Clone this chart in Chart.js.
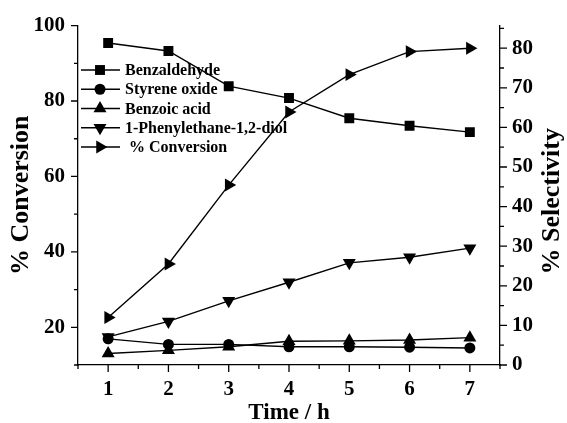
<!DOCTYPE html>
<html>
<head>
<meta charset="utf-8">
<script src="https://cdn.jsdelivr.net/npm/chart.js@4/dist/chart.umd.min.js"></script>
<style>
  html, body { margin: 0; padding: 0; background: #fff; }
  #wrap { width: 567px; height: 423px; }
</style>
</head>
<body>
<div id="wrap"><canvas id="chart" width="567" height="423"></canvas></div>
<script>
// reaction time (h)
const hours = [1, 2, 3, 4, 5, 6, 7];

// product selectivity (%), right axis
const benzaldehyde = [81.3, 79.3, 70.4, 67.4, 62.3, 60.4, 58.8];
const styreneOxide = [6.6, 5.2, 5.2, 4.6, 4.6, 4.5, 4.3];
const benzoicAcid = [2.9, 3.7, 4.6, 6.0, 6.1, 6.3, 6.9];
const phenylethaneDiol = [7.1, 11.0, 16.2, 20.9, 25.8, 27.2, 29.5];

// styrene conversion (%), left axis
const conversion = [22.6, 36.8, 57.7, 77.1, 87.0, 93.1, 94.0];

// tick labels
const conversionTicks = [20, 40, 60, 80, 100];
const selectivityTicks = [0, 10, 20, 30, 40, 50, 60, 70, 80];

const FONT = 'Liberation Serif';
Chart.defaults.font.family = FONT;
Chart.defaults.font.weight = 'bold';
Chart.defaults.color = '#000';

function points(values) {
    return values.map((v, i) => ({ x: hours[i], y: v }));
}

function series(label, values, axis, style, radius, rotation) {
    return {
        label: label,
        data: points(values),
        yAxisID: axis,
        borderColor: '#000',
        borderWidth: 1.4,
        backgroundColor: '#000',
        pointStyle: style,
        pointRadius: radius,
        pointHoverRadius: radius,
        pointRotation: rotation || 0,
        pointBorderWidth: 0,
        pointBackgroundColor: '#000',
        tension: 0
    };
}

// outward major/minor tick marks on each axis
const tickMarks = {
    id: 'tickMarks',
    afterDraw(chart) {
        const ctx = chart.ctx;
        const a = chart.chartArea;
        ctx.save();
        ctx.strokeStyle = '#000';
        ctx.lineWidth = 1.3;
        ctx.beginPath();
        const xs = chart.scales.x;
        hours.forEach(h => {
            const px = xs.getPixelForValue(h);
            ctx.moveTo(px, a.bottom); ctx.lineTo(px, a.bottom + 7);
            const pm = xs.getPixelForValue(h - 0.5);
            ctx.moveTo(pm, a.bottom); ctx.lineTo(pm, a.bottom + 4);
        });
        const last = xs.getPixelForValue(hours[hours.length - 1] + 0.5);
        ctx.moveTo(last, a.bottom); ctx.lineTo(last, a.bottom + 4);

        const yl = chart.scales.y;
        conversionTicks.forEach(v => {
            const py = yl.getPixelForValue(v);
            ctx.moveTo(a.left, py); ctx.lineTo(a.left - 7, py);
            const pm = yl.getPixelForValue(v - 10);
            ctx.moveTo(a.left, pm); ctx.lineTo(a.left - 4, pm);
        });

        const yr = chart.scales.y1;
        selectivityTicks.forEach(v => {
            const py = yr.getPixelForValue(v);
            ctx.moveTo(a.right, py); ctx.lineTo(a.right + 7, py);
            const pm = yr.getPixelForValue(v + 5);
            ctx.moveTo(a.right, pm); ctx.lineTo(a.right + 4, pm);
        });
        ctx.stroke();

        // right axis title, reading bottom to top
        ctx.font = 'bold 26px "' + FONT + '"';
        ctx.fillStyle = '#000';
        ctx.textAlign = 'center';
        ctx.textBaseline = 'middle';
        ctx.translate(552, (a.top + a.bottom) / 2 + 6);
        ctx.rotate(-Math.PI / 2);
        ctx.fillText('% Selectivity', 0, 0);
        ctx.restore();
    }
};

// line-and-marker legend in the upper left of the plot
const markerLegend = {
    id: 'markerLegend',
    afterDraw(chart) {
        const ctx = chart.ctx;
        const x0 = 81, y0 = 70, step = 19.25;
        ctx.save();
        ctx.font = 'bold 16px "' + FONT + '"';
        ctx.textBaseline = 'middle';
        ctx.textAlign = 'left';
        chart.data.datasets.forEach((ds, i) => {
            const y = y0 + i * step;
            ctx.strokeStyle = '#000';
            ctx.lineWidth = 1.4;
            ctx.beginPath();
            ctx.moveTo(x0, y);
            ctx.lineTo(x0 + 39, y);
            ctx.stroke();
            ctx.fillStyle = '#000';
            Chart.helpers.drawPoint(ctx, {
                pointStyle: ds.pointStyle,
                radius: ds.pointRadius,
                rotation: ds.pointRotation,
                borderWidth: 0
            }, x0 + 19, y);
            ctx.fillText(ds.label, x0 + 44, y + 1);
        });
        ctx.restore();
    }
};

new Chart(document.getElementById('chart'), {
    type: 'line',
    data: {
        datasets: [
            series('Benzaldehyde', benzaldehyde, 'y1', 'rect', 7),
            series('Styrene oxide', styreneOxide, 'y1', 'circle', 5.5),
            series('Benzoic acid', benzoicAcid, 'y1', 'triangle', 7.5, 0),
            series('1-Phenylethane-1,2-diol', phenylethaneDiol, 'y1', 'triangle', 7.5, 180),
            series(' % Conversion', conversion, 'y', 'triangle', 7.5, 90)
        ]
    },
    options: {
        responsive: false,
        animation: false,
        layout: { padding: { top: 21, left: 0, right: 0, bottom: 0 } },
        plugins: {
            legend: { display: false },
            tooltip: { enabled: false }
        },
        scales: {
            x: {
                type: 'linear',
                min: 0.5,
                max: 7.5,
                afterBuildTicks: s => { s.ticks = hours.map(v => ({ value: v })); },
                afterFit: s => { s.height = 58; },
                grid: { display: false, drawTicks: false },
                border: { display: true, color: '#000', width: 1.3 },
                ticks: { font: { size: 21, weight: 'bold' }, padding: 12, color: '#000' },
                title: {
                    display: true,
                    text: 'Time / h',
                    font: { size: 23, weight: 'bold', lineHeight: 0.9 },
                    padding: { top: 0, bottom: 0 },
                    color: '#000'
                }
            },
            y: {
                position: 'left',
                min: 10,
                max: 100,
                afterBuildTicks: s => { s.ticks = conversionTicks.map(v => ({ value: v })); },
                afterFit: s => { s.width = 78; },
                grid: { display: false, drawTicks: false },
                border: { display: true, color: '#000', width: 1.3 },
                ticks: { font: { size: 21, weight: 'bold' }, padding: 13, color: '#000' },
                title: {
                    display: true,
                    text: '% Conversion',
                    font: { size: 26, weight: 'bold' },
                    padding: { top: 6, bottom: 0 },
                    color: '#000'
                }
            },
            y1: {
                position: 'right',
                min: 0,
                max: 85.7,
                afterBuildTicks: s => { s.ticks = selectivityTicks.map(v => ({ value: v })); },
                afterFit: s => { s.width = 67; },
                grid: { display: false, drawTicks: false },
                border: { display: true, color: '#000', width: 1.3 },
                ticks: { font: { size: 21, weight: 'bold' }, padding: 12, color: '#000' }
            }
        }
    },
    plugins: [tickMarks, markerLegend]
});
</script>
</body>
</html>
